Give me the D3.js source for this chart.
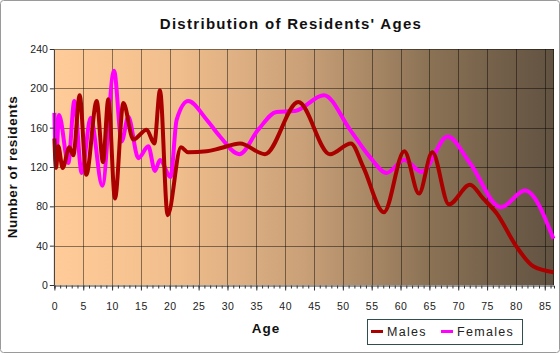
<!DOCTYPE html>
<html>
<head>
<meta charset="utf-8">
<script src="https://cdn.jsdelivr.net/npm/d3@7"></script>
<style>
  body { margin: 0; background: #fff; }
  svg { display: block; font-family: "Liberation Sans", Arial, sans-serif; }
</style>
</head>
<body>
<div id="chart"></div>
<script>
// Ages where the curves turn
const maleAges = [0, 0.28, 0.68, 1.43, 2.59, 3.28, 4.38, 5.53, 7.33, 8.42, 9.35, 10.5, 11.95, 13.68, 15.99, 17.32, 18.3, 19.63, 21.94, 23.2, 26.4, 28.7, 32.17, 36.5, 42.28, 47.76, 51.4, 53.54, 57.12, 60.65, 63.19, 65.5, 68.39, 72.03, 74.3, 76.65, 80.1, 83, 86.5];
const maleValues = [149, 119, 141, 119, 140, 132, 193, 112, 187, 125, 189, 88, 185, 148, 158, 144, 198, 71, 140, 135, 136, 139, 144, 133, 186, 133, 144, 120, 74, 136, 93, 135, 82, 102, 88, 73, 39, 19, 13];

const femaleAges = [0, 0.28, 0.8, 2.41, 3.45, 4.73, 6.29, 8.3, 10.33, 11.66, 12.81, 14.55, 16.28, 17.43, 18.3, 20.15, 21.19, 23.2, 26.4, 28.7, 32.05, 35.34, 38.5, 41.7, 46.72, 51.23, 54.7, 57.58, 60.65, 63.65, 68.16, 72.03, 77.4, 81.56, 86.5];
const femaleValues = [175, 124, 173, 124, 187, 114, 170, 101, 218, 146, 171, 129, 141, 116, 127, 110, 168, 187, 168, 151, 133, 158, 176, 177, 193, 158, 130, 114, 127, 115, 151, 124, 79, 96, 47];

const xTicks = d3.range(0, 90, 5);
const yTicks = [0, 40, 80, 120, 160, 200, 240];

const width = 560, height = 353;
const plot = {left: 54.4, right: 554, top: 49, bottom: 285};

const svg = d3.select("#chart").append("svg")
    .attr("width", width)
    .attr("height", height);

// outer frame
svg.append("rect")
    .attr("x", 0.5).attr("y", 0.5)
    .attr("width", width - 1).attr("height", height - 1)
    .attr("rx", 3)
    .attr("fill", "#fff")
    .attr("stroke", "#9a9a9a");

const x = d3.scaleLinear().domain([0, 86.6]).range([plot.left, plot.right]);
const y = d3.scaleLinear().domain([0, 240]).range([plot.bottom, plot.top]);

// background gradient
const grad = svg.append("defs").append("linearGradient")
    .attr("id", "bg").attr("x1", "0%").attr("x2", "100%");
[[0, "#ffcc99"], [0.25, "#f0bd8c"], [0.5, "#c9a078"], [0.75, "#8b7255"], [1, "#615241"]]
    .forEach(s => grad.append("stop").attr("offset", s[0]).attr("stop-color", s[1]));

svg.append("rect")
    .attr("x", plot.left).attr("y", plot.top)
    .attr("width", plot.right - plot.left).attr("height", plot.bottom - plot.top)
    .attr("fill", "url(#bg)");

// grid
svg.append("g")
    .selectAll("line.v")
    .data(xTicks.filter(d => d > 0))
    .enter().append("line")
    .attr("x1", d => Math.round(x(d)) + 0.5).attr("x2", d => Math.round(x(d)) + 0.5)
    .attr("y1", plot.top).attr("y2", plot.bottom)
    .attr("stroke", "#000").attr("stroke-opacity", 0.45);

svg.append("g")
    .selectAll("line.h")
    .data(yTicks.filter(d => d > 0))
    .enter().append("line")
    .attr("x1", plot.left).attr("x2", plot.right)
    .attr("y1", d => Math.round(y(d)) + 0.5).attr("y2", d => Math.round(y(d)) + 0.5)
    .attr("stroke", "#000").attr("stroke-opacity", 0.45);

svg.append("line")
    .attr("x1", plot.right - 0.5).attr("x2", plot.right - 0.5)
    .attr("y1", plot.top).attr("y2", plot.bottom)
    .attr("stroke", "#000").attr("stroke-opacity", 0.5);

// lines
const makeLine = (ages, vals) => d3.line()
    .x((d, i) => x(ages[i]))
    .y(d => y(d))
    .curve(d3.curveMonotoneX)(vals);

svg.append("path")
    .attr("d", makeLine(femaleAges, femaleValues))
    .attr("fill", "none")
    .attr("stroke", "#ff00ff")
    .attr("stroke-width", 4)
    .attr("stroke-linejoin", "round");

svg.append("path")
    .attr("d", makeLine(maleAges, maleValues))
    .attr("fill", "none")
    .attr("stroke", "#aa0000")
    .attr("stroke-width", 4)
    .attr("stroke-linejoin", "round");

// x axis with minor ticks
const xAxis = svg.append("g")
    .attr("transform", `translate(0,${plot.bottom + 0.5})`)
    .call(d3.axisBottom(x).tickValues(d3.range(0, 87, 1)).tickSize(3).tickFormat(""));
xAxis.select(".domain").attr("stroke", "#333");
xAxis.selectAll(".tick line").attr("stroke", "#333");

const xMajor = svg.append("g")
    .attr("transform", `translate(0,${plot.bottom + 0.5})`)
    .call(d3.axisBottom(x).tickValues(xTicks).tickSize(5).tickPadding(12));
xMajor.select(".domain").remove();
xMajor.selectAll(".tick line").attr("stroke", "#333");
xMajor.selectAll("text")
    .attr("font-size", 10.5).attr("fill", "#222")
    .attr("font-family", "'Liberation Sans', Arial, sans-serif")
    .style("letter-spacing", "0.5px");

const yAxis = svg.append("g")
    .attr("transform", `translate(${plot.left - 0.5},0)`)
    .call(d3.axisLeft(y).tickValues(yTicks).tickSize(4).tickPadding(2));
yAxis.select(".domain").attr("stroke", "#333");
yAxis.selectAll(".tick line").attr("stroke", "#333");
yAxis.selectAll("text")
    .attr("font-size", 10.5).attr("fill", "#222")
    .attr("font-family", "'Liberation Sans', Arial, sans-serif");

// titles
svg.append("text")
    .attr("x", 291).attr("y", 29)
    .attr("text-anchor", "middle")
    .style("font-size", "15px").style("font-weight", "bold")
    .style("letter-spacing", "1.3px")
    .attr("fill", "#111")
    .text("Distribution of Residents' Ages");

svg.append("text")
    .attr("transform", `translate(17,167) rotate(-90)`)
    .attr("text-anchor", "middle")
    .style("font-size", "13.5px").style("font-weight", "bold")
    .style("letter-spacing", "0.6px")
    .attr("fill", "#111")
    .text("Number of residents");

svg.append("text")
    .attr("x", 266).attr("y", 333)
    .attr("text-anchor", "middle")
    .style("font-size", "13.5px").style("font-weight", "bold")
    .style("letter-spacing", "1px")
    .attr("fill", "#111")
    .text("Age");

// legend
const legend = svg.append("g");
legend.append("rect")
    .attr("x", 367.5).attr("y", 319.5)
    .attr("width", 155).attr("height", 25)
    .attr("fill", "none").attr("stroke", "#2f4f4f");

const items = [["Males", "#aa0000", 371], ["Females", "#ff00ff", 441]];
items.forEach(([name, color, lx]) => {
    legend.append("line")
        .attr("x1", lx).attr("x2", lx + 12)
        .attr("y1", 331.5).attr("y2", 331.5)
        .attr("stroke", color).attr("stroke-width", 3);
    legend.append("text")
        .attr("x", lx + 16).attr("y", 336)
        .style("font-size", "12.5px")
        .style("letter-spacing", "1.3px")
        .attr("fill", "#222")
        .text(name);
});
</script>
</body>
</html>
